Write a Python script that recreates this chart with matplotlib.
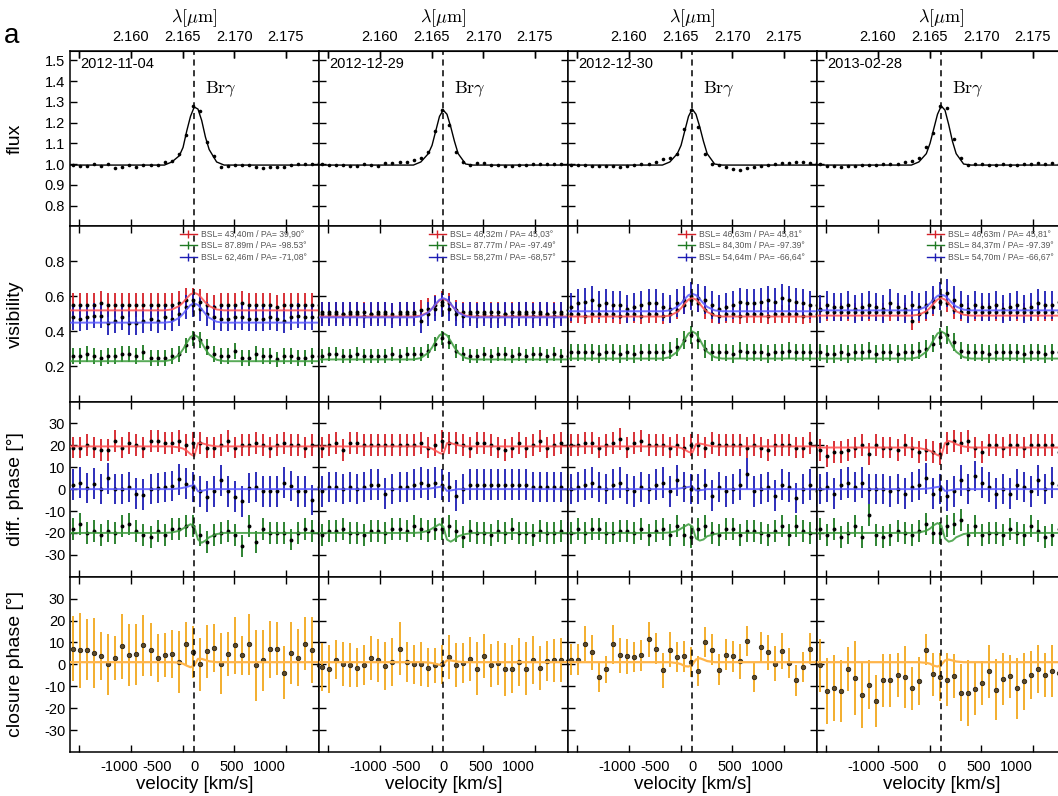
import matplotlib
matplotlib.use("Agg")
import matplotlib.pyplot as plt
from matplotlib.lines import Line2D

plt.rcParams['font.family'] = ['Liberation Sans', 'DejaVu Sans']
plt.rcParams['mathtext.fontset'] = 'cm'

C_KMS = 299792.458
LAM0 = 2.16612  # Br gamma rest wavelength [um]

dates = ["2012-11-04", "2012-12-29", "2012-12-30", "2013-02-28"]

velocity = [-1620, -1526, -1432, -1338, -1244, -1150, -1056, -962, -868, -774,
            -680, -586, -492, -398, -304, -210, -116, -22, 72, 166,
            260, 354, 448, 542, 636, 730, 824, 918, 1012, 1106,
            1200, 1294, 1388, 1482, 1576, 1670]

model_v = [-1700, -400, -300, -200, -150, -100, -50, 0, 50, 100, 150, 200, 300, 400, 1700]

# ---- flux ----
flux_1 = [0.995, 0.992, 0.992, 1.0, 0.992, 0.998, 0.983, 0.987, 0.997, 0.987, 0.995, 0.995,
          0.995, 1.011, 1.014, 1.05, 1.138, 1.278, 1.258, 1.107, 1.04, 0.988, 0.99, 0.995,
          0.995, 0.995, 0.988, 0.983, 0.987, 0.987, 0.987, 0.995, 1.0, 1.0, 1.0, 1.003]
flux_2 = [0.998, 0.997, 0.995, 0.995, 0.99, 0.99, 1.0, 0.995, 0.99, 1.003, 1.007, 1.01,
          1.012, 1.02, 1.03, 1.06, 1.16, 1.26, 1.19, 1.06, 1.01, 0.995, 1.003, 1.005,
          0.995, 0.995, 0.99, 0.99, 0.995, 0.995, 1.0, 1.0, 1.0, 1.0, 1.0, 1.0]
flux_3 = [0.995, 0.995, 0.995, 0.99, 0.99, 0.99, 0.99, 0.985, 0.99, 0.995, 1.0, 1.0,
          1.01, 1.025, 1.03, 1.05, 1.17, 1.26, 1.18, 1.05, 1.0, 0.995, 0.985, 0.975,
          0.97, 0.98, 0.985, 0.99, 0.995, 1.0, 1.005, 1.005, 1.01, 1.01, 1.005, 1.005]
flux_4 = [1.0, 0.99, 0.99, 0.985, 0.99, 0.99, 0.995, 0.995, 0.995, 1.0, 1.0, 1.0,
          1.01, 1.015, 1.03, 1.08, 1.15, 1.28, 1.27, 1.12, 1.03, 0.995, 1.0, 1.0,
          0.995, 0.995, 1.0, 0.995, 0.995, 1.0, 1.0, 1.005, 1.0, 1.005, 1.0, 1.0]
flux_model_1 = [0.995, 0.995, 1.01, 1.04, 1.08, 1.16, 1.23, 1.275, 1.265, 1.21, 1.13, 1.07, 1.01, 0.995, 0.995]
flux_model_2 = [0.995, 0.995, 1.01, 1.05, 1.09, 1.16, 1.23, 1.26, 1.24, 1.18, 1.11, 1.05, 1.0, 0.995, 0.995]
flux_model_3 = [0.995, 0.995, 1.01, 1.05, 1.09, 1.16, 1.23, 1.265, 1.24, 1.18, 1.11, 1.05, 1.0, 0.995, 0.995]
flux_model_4 = [0.995, 0.995, 1.01, 1.05, 1.10, 1.17, 1.24, 1.28, 1.26, 1.19, 1.11, 1.05, 1.0, 0.995, 0.995]

# ---- visibilities (red, green, blue baselines) ----
vis_red_1 = [0.55, 0.55, 0.55, 0.55, 0.56, 0.55, 0.55, 0.55, 0.55, 0.55, 0.55, 0.55,
             0.55, 0.55, 0.55, 0.56, 0.58, 0.58, 0.57, 0.55, 0.54, 0.55, 0.55, 0.55,
             0.56, 0.55, 0.55, 0.55, 0.55, 0.54, 0.55, 0.55, 0.55, 0.55, 0.55, 0.55]
vis_green_1 = [0.26, 0.26, 0.27, 0.26, 0.25, 0.26, 0.26, 0.27, 0.27, 0.26, 0.28, 0.25,
               0.25, 0.25, 0.26, 0.27, 0.32, 0.36, 0.35, 0.31, 0.27, 0.26, 0.26, 0.29,
               0.25, 0.25, 0.27, 0.26, 0.26, 0.24, 0.26, 0.26, 0.25, 0.25, 0.26, 0.26]
vis_blue_1 = [0.48, 0.47, 0.48, 0.49, 0.49, 0.45, 0.46, 0.48, 0.45, 0.45, 0.46, 0.47,
              0.46, 0.48, 0.47, 0.50, 0.54, 0.55, 0.53, 0.50, 0.48, 0.47, 0.47, 0.48,
              0.48, 0.47, 0.47, 0.47, 0.48, 0.47, 0.46, 0.48, 0.49, 0.48, 0.48, 0.48]
vis_red_2 = [0.51, 0.51, 0.51, 0.50, 0.51, 0.51, 0.51, 0.50, 0.51, 0.51, 0.50, 0.51,
             0.51, 0.51, 0.52, 0.53, 0.55, 0.57, 0.56, 0.52, 0.51, 0.51, 0.51, 0.51,
             0.51, 0.51, 0.50, 0.51, 0.51, 0.51, 0.51, 0.51, 0.50, 0.51, 0.51, 0.52]
vis_green_2 = [0.26, 0.27, 0.27, 0.26, 0.26, 0.27, 0.26, 0.26, 0.26, 0.26, 0.27, 0.26,
               0.27, 0.27, 0.27, 0.29, 0.33, 0.36, 0.34, 0.29, 0.27, 0.26, 0.26, 0.27,
               0.26, 0.27, 0.27, 0.26, 0.27, 0.26, 0.27, 0.27, 0.26, 0.27, 0.26, 0.26]
vis_blue_2 = [0.50, 0.50, 0.50, 0.50, 0.50, 0.50, 0.49, 0.50, 0.50, 0.50, 0.49, 0.50,
              0.50, 0.50, 0.46, 0.50, 0.53, 0.55, 0.53, 0.50, 0.49, 0.50, 0.49, 0.50,
              0.49, 0.49, 0.50, 0.49, 0.50, 0.50, 0.49, 0.50, 0.50, 0.49, 0.50, 0.50]
vis_red_3 = [0.50, 0.50, 0.49, 0.50, 0.50, 0.50, 0.50, 0.49, 0.50, 0.50, 0.49, 0.50,
             0.50, 0.49, 0.50, 0.52, 0.55, 0.58, 0.56, 0.52, 0.50, 0.49, 0.50, 0.50,
             0.49, 0.50, 0.50, 0.50, 0.49, 0.50, 0.50, 0.50, 0.50, 0.49, 0.50, 0.50]
vis_green_3 = [0.28, 0.28, 0.28, 0.28, 0.27, 0.28, 0.28, 0.27, 0.28, 0.27, 0.28, 0.28,
               0.28, 0.28, 0.29, 0.31, 0.35, 0.38, 0.35, 0.30, 0.28, 0.28, 0.28, 0.27,
               0.29, 0.28, 0.28, 0.28, 0.27, 0.28, 0.28, 0.29, 0.28, 0.28, 0.28, 0.28]
vis_blue_3 = [0.54, 0.56, 0.57, 0.58, 0.55, 0.56, 0.55, 0.55, 0.53, 0.54, 0.55, 0.56,
              0.56, 0.54, 0.53, 0.56, 0.58, 0.60, 0.59, 0.58, 0.55, 0.53, 0.54, 0.55,
              0.57, 0.56, 0.56, 0.57, 0.58, 0.57, 0.59, 0.58, 0.57, 0.56, 0.55, 0.55]
vis_red_4 = [0.52, 0.51, 0.51, 0.51, 0.51, 0.51, 0.51, 0.51, 0.51, 0.51, 0.51, 0.51,
             0.51, 0.46, 0.50, 0.51, 0.54, 0.57, 0.56, 0.52, 0.51, 0.51, 0.51, 0.51,
             0.51, 0.51, 0.51, 0.51, 0.51, 0.51, 0.51, 0.51, 0.51, 0.51, 0.51, 0.51]
vis_green_4 = [0.28, 0.27, 0.27, 0.28, 0.27, 0.28, 0.28, 0.29, 0.27, 0.28, 0.28, 0.27,
               0.28, 0.28, 0.29, 0.30, 0.33, 0.37, 0.38, 0.34, 0.29, 0.28, 0.28, 0.28,
               0.27, 0.28, 0.28, 0.28, 0.28, 0.27, 0.28, 0.28, 0.27, 0.28, 0.28, 0.28]
vis_blue_4 = [0.53, 0.55, 0.54, 0.54, 0.55, 0.53, 0.54, 0.55, 0.54, 0.53, 0.56, 0.54,
              0.53, 0.55, 0.54, 0.55, 0.58, 0.60, 0.62, 0.58, 0.55, 0.53, 0.55, 0.54,
              0.54, 0.55, 0.53, 0.54, 0.55, 0.53, 0.54, 0.56, 0.55, 0.55, 0.57, 0.55]
vis_err = {"red": [0.07, 0.06, 0.05, 0.05], "green": [0.045, 0.04, 0.05, 0.05],
           "blue": [0.07, 0.07, 0.08, 0.08]}

vis_model_red_1 = [0.52, 0.52, 0.525, 0.545, 0.565, 0.59, 0.612, 0.62, 0.612, 0.59, 0.565, 0.545, 0.525, 0.52, 0.52]
vis_model_green_1 = [0.23, 0.23, 0.238, 0.268, 0.298, 0.335, 0.368, 0.38, 0.368, 0.335, 0.298, 0.268, 0.238, 0.23, 0.23]
vis_model_blue_1 = [0.45, 0.45, 0.455, 0.478, 0.50, 0.527, 0.551, 0.56, 0.551, 0.527, 0.50, 0.478, 0.455, 0.45, 0.45]
vis_model_red_2 = [0.485, 0.485, 0.49, 0.51, 0.53, 0.555, 0.577, 0.585, 0.577, 0.555, 0.53, 0.51, 0.49, 0.485, 0.485]
vis_model_green_2 = [0.24, 0.24, 0.248, 0.278, 0.308, 0.345, 0.378, 0.39, 0.378, 0.345, 0.308, 0.278, 0.248, 0.24, 0.24]
vis_model_blue_2 = [0.48, 0.48, 0.486, 0.508, 0.53, 0.558, 0.581, 0.59, 0.581, 0.558, 0.53, 0.508, 0.486, 0.48, 0.48]
vis_model_red_3 = [0.485, 0.485, 0.49, 0.511, 0.532, 0.558, 0.582, 0.59, 0.582, 0.558, 0.532, 0.511, 0.49, 0.485, 0.485]
vis_model_green_3 = [0.245, 0.245, 0.253, 0.284, 0.315, 0.354, 0.388, 0.40, 0.388, 0.354, 0.315, 0.284, 0.253, 0.245, 0.245]
vis_model_blue_3 = [0.515, 0.515, 0.52, 0.54, 0.56, 0.585, 0.607, 0.615, 0.607, 0.585, 0.56, 0.54, 0.52, 0.515, 0.515]
vis_model_red_4 = [0.49, 0.49, 0.495, 0.515, 0.535, 0.56, 0.582, 0.59, 0.582, 0.56, 0.535, 0.515, 0.495, 0.49, 0.49]
vis_model_green_4 = [0.245, 0.245, 0.253, 0.284, 0.315, 0.354, 0.388, 0.40, 0.388, 0.354, 0.315, 0.284, 0.253, 0.245, 0.245]
vis_model_blue_4 = [0.52, 0.52, 0.524, 0.542, 0.56, 0.583, 0.603, 0.61, 0.603, 0.583, 0.56, 0.542, 0.524, 0.52, 0.52]

baselines = [
    ["BSL= 43,40m / PA= 39,90°", "BSL= 87.89m / PA= -98.53°", "BSL= 62,46m / PA= -71,08°"],
    ["BSL= 46,32m / PA= 45,03°", "BSL= 87.77m / PA= -97.49°", "BSL= 58,27m / PA= -68,57°"],
    ["BSL= 46,63m / PA= 45,81°", "BSL= 84,30m / PA= -97.39°", "BSL= 54,64m / PA= -66,64°"],
    ["BSL= 46,63m / PA= 45,81°", "BSL= 84,37m / PA= -97.39°", "BSL= 54,70m / PA= -66,67°"],
]

# ---- differential phases [deg] ----
dphi_red_1 = [19, 19, 20, 19, 18, 18, 22, 19, 21, 20, 19, 22, 22, 21, 21, 22, 20, 21,
              21, 19, 19, 20, 22, 19, 20, 20, 21, 20, 19, 20, 21, 20, 20, 19, 20, 20]
dphi_green_1 = [-18, -16, -20, -19, -21, -19, -20, -17, -16, -19, -21, -22, -19, -21, -18, -18, -17, -17,
                -21, -24, -21, -20, -19, -21, -26, -17, -24, -18, -20, -20, -20, -23, -20, -18, -19, -20]
dphi_blue_1 = [2, 3, 0.5, 2.5, 0, 5, 0, 0, 1, -2, -2.5, 0, 0.5, 1, 1.5, 4.5, 2.5, 1,
               -1, -3.5, -1, 4, -1, -3.5, -5.5, 0.5, 1, -1, -1, -1, 3, 1.5, -1, -1, -5, 1]
dphi_red_2 = [19, 20, 21, 18, 21, 21, 20, 20, 20, 20, 20, 20, 20, 20, 21, 19, 20, 22,
              21, 21, 20, 19, 21, 21, 20, 19, 18, 19, 21, 19, 20, 22, 19, 20, 21, 20]
dphi_green_2 = [-21, -19, -19, -18, -20, -20, -21, -19, -19, -20, -18, -18, -19, -17, -18, -19, -18, -18,
                -17, -19, -22, -19, -20, -20, -21, -19, -20, -18, -20, -20, -21, -19, -20, -20, -19, -20]
dphi_blue_2 = [-1, 1, 1, 0, 1, 0, 1, 2, 2, -2, 0, 1, 1, 2, 3, 2, 3, 2,
               1, -3, 0, 2, 2, 2, 2, 2, 2, 2, 2, 2, 1, 1, 1, 1, 1, 0]
dphi_red_3 = [20, 20, 21, 21, 19, 20, 21, 23, 19, 21, 22, 20, 20, 20, 19, 20, 19, 20,
              20, 19, 21, 20, 20, 20, 20, 19, 20, 19, 18, 20, 20, 20, 19, 19, 21, 20]
dphi_green_3 = [-20, -18, -20, -18, -18, -20, -20, -19, -19, -20, -18, -21, -19, -18, -21, -17, -21, -22,
                -18, -17, -20, -21, -18, -18, -21, -19, -19, -20, -21, -19, -17, -21, -17, -19, -20, -18]
dphi_blue_3 = [0, 1, 2, 3, 1, 0, 2, 3, 0, -1, 1, 0, 2, 3, -1, 4, 1, 0,
               0, 2, -3, 1, -1, 0, 2, 7, -1, 0, 1, -3, 2, 1, -4, 0, 2, -1]
dphi_red_4 = [18, 15, 17, 17, 18, 19, 20, 16, 20, 19, 19, 18, 20, 19, 17, 18, 17, 16,
              21, 22, 21, 22, 19, 17, 20, 20, 19, 20, 20, 19, 20, 20, 20, 20, 17, 19]
dphi_green_4 = [-18, -21, -18, -22, -20, -17, -22, -12, -21, -22, -21, -19, -20, -21, -19, -16, -20, -20,
                -17, -16, -14, -21, -17, -21, -20, -20, -21, -18, -20, -21, -17, -19, -22, -21, -18, -20]
dphi_blue_4 = [0, 1, -2, 2, 3, 1, 3, 0, 0, 0, -1, 0, -2, 1, 2, 5, -2, 0,
               -3, -1, 4, 0, 6, 3, 1, -2, 0, -2, 2, 1, -1, 4, 0, 3, 2, 1]
dphi_err = {"red": 5, "green": 5, "blue": 7}

dphi_model_red_1 = [19.5, 19.5, 19.5, 19, 18.5, 17.5, 16, 15, 21, 21, 20.5, 20, 19.5, 19.5, 19.5]
dphi_model_green_1 = [-20, -20, -19.8, -19, -18, -17, -16, -17, -23, -24.5, -23.5, -22, -20.5, -20, -20]
dphi_model_blue_1 = [0, 0, 0, 0.3, 0.6, 1, 1.5, 1.8, -1, -0.8, -0.4, 0, 0, 0, 0]
dphi_model_red_2 = [19.5, 19.5, 19.5, 19, 18.5, 17.5, 16.5, 16, 21, 21, 20.5, 20, 19.5, 19.5, 19.5]
dphi_model_green_2 = [-20, -20, -19.8, -19, -18, -17, -16, -17, -23, -24, -23, -21.5, -20.5, -20, -20]
dphi_model_blue_2 = [0, 0, 0, 0.2, 0.4, 0.7, 1, 1.2, -0.8, -0.6, -0.3, 0, 0, 0, 0]
dphi_model_red_3 = [19.5, 19.5, 19.5, 19.2, 18.8, 18, 17, 16.5, 20.5, 20.8, 20.5, 20, 19.5, 19.5, 19.5]
dphi_model_green_3 = [-20, -20, -19.8, -19, -18, -17, -16, -17, -22.5, -23.5, -23, -21.5, -20.5, -20, -20]
dphi_model_blue_3 = [0, 0, 0, 0.2, 0.4, 0.7, 1, 1.2, -0.6, -0.5, -0.3, 0, 0, 0, 0]
dphi_model_red_4 = [19, 19, 18.8, 18, 17.5, 16.5, 15.5, 15, 21, 22, 21.5, 20.5, 19.5, 19, 19]
dphi_model_green_4 = [-20, -20, -19.8, -19, -18, -16.5, -15.5, -16.5, -22.5, -24, -23.5, -22, -20.5, -20, -20]
dphi_model_blue_4 = [0, 0, 0, 0.2, 0.4, 0.7, 1, 1.2, -0.8, -0.6, -0.3, 0, 0, 0, 0]

# ---- closure phases [deg] ----
cphi_1 = [7.2, 6.4, 6.7, 5.2, 3.7, 0, 3, 8.2, 4.3, 4.6, 8.7, 6.7, 2.9, 4.1, 4.9, 1.1, 9.2, 5.6,
          0, 6, 7.5, 0.3, 4.6, 8.7, 4.1, 9.2, -0.5, 1.8, 6.9, 7.2, -3.8, 5.2, 3, 9.5, 6.4, -0.5]
cphi_err_1 = [15, 17, 14, 16, 11, 14, 10, 15, 14, 14, 14, 12, 11, 10, 11, 14, 10, 12,
              12, 12, 11, 14, 10, 13, 9, 14, 16, 14, 13, 12, 12, 14, 13, 12, 15, 12]
cphi_2 = [-1.2, -2, 2.1, 0.3, -0.2, -1.5, -0.2, 2.9, 1.8, -0.8, 1.1, 7.2, 1.1, 0, 0.3, -1.5, -0.5, 0,
          3.4, -0.2, 0.6, 2.6, -2, 3.7, -0.5, 0.6, -2.3, -2, 1.1, -2, 2.1, -1.5, 1.5, 1.8, 2.1, 1.5]
cphi_err_2 = [11, 11, 9, 10, 10, 9, 9, 10, 10, 11, 11, 12, 9, 9, 10, 9, 8, 9,
              10, 10, 9, 10, 12, 10, 10, 10, 12, 11, 11, 12, 11, 10, 9, 10, 10, 10]
cphi_3 = [2.1, 2.1, 9.5, 5.6, -5.8, -2.3, 9.2, 4.1, 3.8, 3.4, 4.1, 11.5, 7.2, -2.7, 6.7, 3.4, 3.7, 1.1,
          -3, 10.2, 6.7, -2.4, 4.4, 3.7, 1.5, 10.7, -5.8, 7.9, 5.6, 0.3, 6.1, 0.6, -7.3, -1.2, 7.2, 1.0]
cphi_err_3 = [7, 7, 8, 8, 7, 6, 9, 8, 8, 7, 7, 8, 7, 8, 8, 7, 7, 7,
              7, 7, 7, 7, 7, 7, 8, 7, 7, 7, 8, 8, 8, 7, 7, 7, 7, 7]
cphi_4 = [-0.5, -12.2, -10.8, -12.2, -2.1, -6.3, -14.2, -9.2, -16.8, -7.3, -7.3, -5, -5.8, -11, -7.6, 6.7,
          -4.6, -5.8, -7, -5.2, -13, -13.1, -11.1, -8.5, -3.2, -11.6, -6.6, -5.5, -11, -7.8, -4.7, -2,
          -5, -3, -4, -3]
cphi_err_4 = [12, 15, 15, 14, 10, 17, 15, 11, 12, 12, 12, 10, 14, 10, 11, 7, 10, 11,
              12, 10, 13, 15, 12, 10, 12, 14, 12, 10, 14, 13, 11, 11, 10, 12, 12, 12]
cphi_model_1 = [1, 1, 1, 0.8, 0.3, -0.6, -1.3, -0.5, 2.5, 2.5, 2, 1.4, 1, 1, 1]
cphi_model_2 = [1, 1, 1, 0.9, 0.6, 0.2, -0.2, 0.2, 1.8, 1.8, 1.5, 1.2, 1, 1, 1]
cphi_model_3 = [1, 1, 1, 0.6, 0.1, -0.8, -1, -0.2, 2.2, 2.8, 2.2, 1.5, 1, 1, 1]
cphi_model_4 = [1, 1, 1, 0.7, 0.3, -0.6, -1, -0.2, 1.8, 2.2, 1.8, 1.3, 1, 1, 1]

fluxes = [flux_1, flux_2, flux_3, flux_4]
flux_models = [flux_model_1, flux_model_2, flux_model_3, flux_model_4]
vis = [[vis_red_1, vis_green_1, vis_blue_1], [vis_red_2, vis_green_2, vis_blue_2],
       [vis_red_3, vis_green_3, vis_blue_3], [vis_red_4, vis_green_4, vis_blue_4]]
vis_models = [[vis_model_red_1, vis_model_green_1, vis_model_blue_1],
              [vis_model_red_2, vis_model_green_2, vis_model_blue_2],
              [vis_model_red_3, vis_model_green_3, vis_model_blue_3],
              [vis_model_red_4, vis_model_green_4, vis_model_blue_4]]
dphis = [[dphi_red_1, dphi_green_1, dphi_blue_1], [dphi_red_2, dphi_green_2, dphi_blue_2],
         [dphi_red_3, dphi_green_3, dphi_blue_3], [dphi_red_4, dphi_green_4, dphi_blue_4]]
dphi_models = [[dphi_model_red_1, dphi_model_green_1, dphi_model_blue_1],
               [dphi_model_red_2, dphi_model_green_2, dphi_model_blue_2],
               [dphi_model_red_3, dphi_model_green_3, dphi_model_blue_3],
               [dphi_model_red_4, dphi_model_green_4, dphi_model_blue_4]]
cphis = [cphi_1, cphi_2, cphi_3, cphi_4]
cphi_errs = [cphi_err_1, cphi_err_2, cphi_err_3, cphi_err_4]
cphi_models = [cphi_model_1, cphi_model_2, cphi_model_3, cphi_model_4]

names = ["red", "green", "blue"]
colors = {"red": "#d42028", "green": "#1e7a22", "blue": "#1c1cb4"}
model_colors = {"red": "#ff5050", "green": "#3c9c3c", "blue": "#5a5aff"}
orange = "#f2a81c"
orange_model = "#ffb54a"

wl_ticks = [2.155, 2.160, 2.165, 2.170, 2.175]
wl_labels = ["", "2.160", "2.165", "2.170", "2.175"]
VLIM = (-1665, 1672)


def v2lam(v):
    return LAM0 * (1 + v / C_KMS)


def lam2v(lam):
    return (lam / LAM0 - 1) * C_KMS


W, H = 1058, 796
fig = plt.figure(figsize=(W / 100, H / 100), dpi=100)

col_left = [70, 319, 568, 817]
col_w = 249
row_top = [51, 226.25, 401.5, 576.75]
row_h = 175.25


def make_ax(col, row):
    x0 = col_left[col] / W
    y0 = 1 - (row_top[row] + row_h) / H
    ax = fig.add_axes([x0, y0, col_w / W, row_h / H])
    ax.set_xlim(*VLIM)
    ax.axvline(0, color="k", ls=(0, (4, 3)), lw=1.1, zorder=5)
    ax.set_xticks([-1000, -500, 0, 500, 1000])
    ax.set_xticks([lam2v(l) for l in wl_ticks], minor=True)
    ax.tick_params(axis="x", which="major", length=0, labelsize=10.5, pad=6)
    ax.tick_params(axis="x", which="minor", direction="in", top=True, bottom=True, length=5, width=1)
    ax.tick_params(axis="y", direction="in", left=True, right=True, length=5, width=1, labelsize=10.5)
    if row < 3:
        ax.set_xticklabels([])
    else:
        ax.set_xticklabels(["-1000", "-500", "0", "500", "1000"])
        ax.set_xlabel("velocity [km/s]", fontsize=13.5, labelpad=1)
    if col > 0:
        ax.set_yticklabels([])
    for s in ax.spines.values():
        s.set_linewidth(1.1)
    return ax


def set_ylabel(ax, text):
    ax.set_ylabel(text, fontsize=14)
    ax.yaxis.set_label_coords(-0.185, 0.5)


for c in range(4):
    # flux
    ax = make_ax(c, 0)
    ax.plot(model_v, flux_models[c], color="k", lw=1.0)
    ax.plot(velocity, fluxes[c], "o", color="k", ms=2.6, mew=0)
    ax.set_ylim(0.7, 1.545)
    ax.set_yticks([0.8, 0.9, 1.0, 1.1, 1.2, 1.3, 1.4, 1.5])
    if c == 0:
        ax.set_yticklabels(["0.8", "0.9", "1.0", "1.1", "1.2", "1.3", "1.4", "1.5"])
        set_ylabel(ax, "flux")
    ax.text(0.04, 0.965, dates[c], transform=ax.transAxes, ha="left", va="top", fontsize=10.5)
    ax.text(150, 1.36, r"$\mathrm{Br}\gamma$", ha="left", va="center", fontsize=13)
    sec = ax.secondary_xaxis("top", functions=(v2lam, lam2v))
    sec.set_xticks(wl_ticks)
    sec.set_xticklabels(wl_labels)
    sec.tick_params(direction="in", length=5, width=1, labelsize=10.5, pad=5)
    sec.set_xlabel(r"$\lambda[\mu\mathrm{m}]$", fontsize=13, labelpad=6)

    # visibility
    ax = make_ax(c, 1)
    for i, n in enumerate(names):
        ax.plot(model_v, vis_models[c][i], color=model_colors[n], lw=1.4, alpha=0.85, zorder=3)
        ax.errorbar(velocity, vis[c][i], yerr=vis_err[n][c], fmt="o", color="k", ms=2.8, mew=0,
                    ecolor=colors[n], elinewidth=1.3, capsize=0, zorder=2)
    ax.set_ylim(0, 1.0)
    ax.set_yticks([0.2, 0.4, 0.6, 0.8])
    if c == 0:
        ax.set_yticklabels(["0.2", "0.4", "0.6", "0.8"])
        set_ylabel(ax, "visibility")
    handles = [Line2D([0], [0], color=colors[n], lw=1.0, marker="|", ms=6, mew=1.0) for n in names]
    ax.legend(handles, baselines[c], loc="upper left", bbox_to_anchor=(0.42, 1.01),
              fontsize=6.2, frameon=False, handlelength=2.0, handletextpad=0.5,
              labelspacing=0.3, borderaxespad=0.2, labelcolor="#555555", numpoints=1)

    # differential phase
    ax = make_ax(c, 2)
    for i, n in enumerate(names):
        ax.plot(model_v, dphi_models[c][i], color=model_colors[n], lw=1.4, alpha=0.85, zorder=3)
        ax.errorbar(velocity, dphis[c][i], yerr=dphi_err[n], fmt="o", color="k", ms=2.8, mew=0,
                    ecolor=colors[n], elinewidth=1.3, capsize=0, zorder=2)
    ax.set_ylim(-40, 40)
    ax.set_yticks([-30, -20, -10, 0, 10, 20, 30])
    if c == 0:
        ax.set_yticklabels(["-30", "-20", "-10", "0", "10", "20", "30"])
        set_ylabel(ax, "diff. phase [°]")

    # closure phase
    ax = make_ax(c, 3)
    ax.plot(model_v, cphi_models[c], color=orange_model, lw=1.6, zorder=3)
    ax.errorbar(velocity, cphis[c], yerr=cphi_errs[c], fmt="o", ms=3.2, mfc="#5a4a2c", mec="#2a2010",
                mew=0.6, ecolor=orange, elinewidth=1.3, capsize=0, zorder=2)
    ax.set_ylim(-40, 40)
    ax.set_yticks([-30, -20, -10, 0, 10, 20, 30])
    if c == 0:
        ax.set_yticklabels(["-30", "-20", "-10", "0", "10", "20", "30"])
        set_ylabel(ax, "closure phase [°]")

fig.text(12 / W, 1 - 36 / H, "a", fontsize=20, ha="center", va="center")

fig.savefig("out.png", dpi=100)
